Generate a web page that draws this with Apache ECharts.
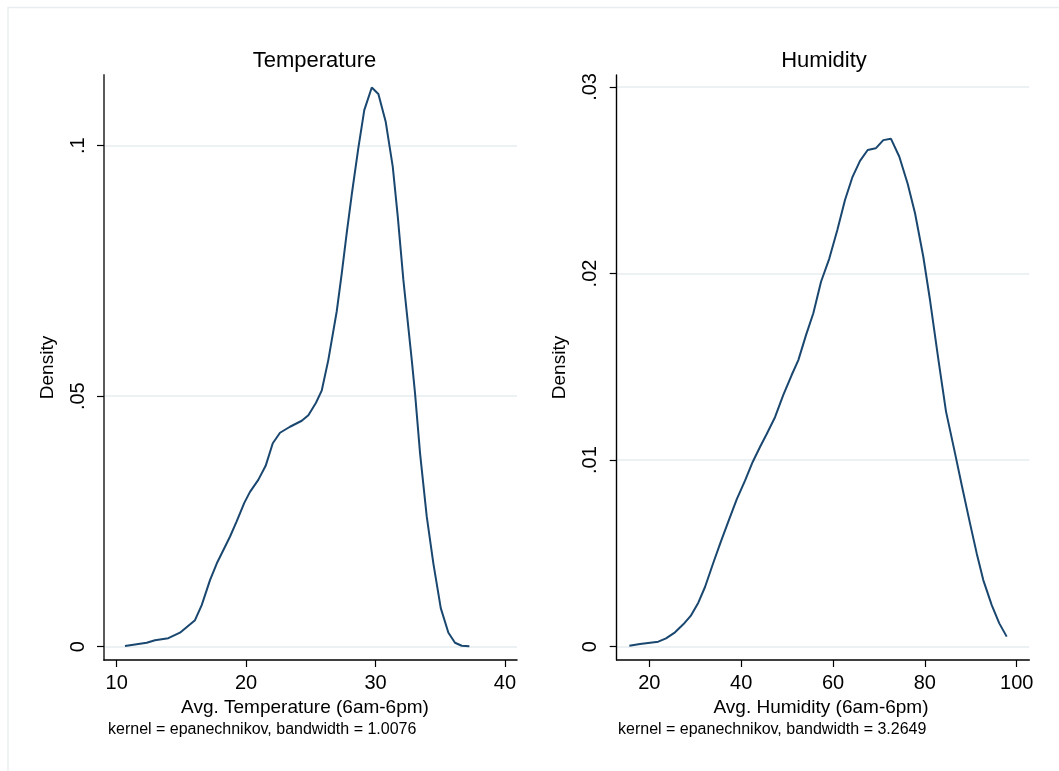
<!DOCTYPE html>
<html><head><meta charset="utf-8">
<script src="https://cdn.jsdelivr.net/npm/echarts@6/dist/echarts.min.js"></script>
<style>html,body{margin:0;padding:0;background:#fff}#c{width:1059px;height:771px}</style>
</head><body><div id="c"></div>
<script>
// ---- Data ----
const tempX = [10.64, 12.32, 12.96, 13.99, 14.89, 16.05, 16.57, 17.21, 17.73, 18.76, 19.27, 19.86, 20.30, 20.94, 21.51, 22.06, 22.62, 23.39, 24.30, 24.81, 25.40, 25.84, 26.35, 27.00, 27.39, 27.77, 28.16, 28.67, 29.13, 29.71, 30.22, 30.79, 31.33, 31.72, 32.15, 32.80, 33.05, 33.44, 33.96, 34.47, 35.04, 35.63, 36.14, 36.66, 37.25];
const tempDensity = [0.00014, 0.0008, 0.0013, 0.0017, 0.0028, 0.0053, 0.0083, 0.0133, 0.0166, 0.0220, 0.0250, 0.0287, 0.0309, 0.0333, 0.0361, 0.0406, 0.0427, 0.0439, 0.0451, 0.0462, 0.0487, 0.0511, 0.0572, 0.0669, 0.0745, 0.0825, 0.0902, 0.0995, 0.1071, 0.1116, 0.1103, 0.1047, 0.0958, 0.0858, 0.0732, 0.0572, 0.0506, 0.0386, 0.0259, 0.0166, 0.0077, 0.0028, 0.0008, 0.0002, 0.0001];
const humX = [15.65, 17.97, 21.96, 23.64, 25.60, 27.40, 29.01, 30.67, 32.13, 33.94, 35.54, 37.20, 39.03, 40.84, 42.51, 44.10, 45.56, 47.37, 49.18, 51.00, 52.45, 54.12, 55.71, 57.39, 59.19, 60.94, 62.61, 64.20, 65.88, 67.55, 69.30, 70.95, 72.63, 74.44, 76.27, 77.86, 79.66, 81.12, 82.93, 84.61, 86.57, 88.02, 89.83, 91.29, 92.72, 94.56, 96.21, 97.82];
const humDensity = [0.00005, 0.00014, 0.00027, 0.00045, 0.00077, 0.0012, 0.00165, 0.00236, 0.0032, 0.0045, 0.0056, 0.0067, 0.0079, 0.0089, 0.0099, 0.0107, 0.0114, 0.0123, 0.0135, 0.01456, 0.01536, 0.0167, 0.01787, 0.01956, 0.0208, 0.02233, 0.02394, 0.02515, 0.02604, 0.02662, 0.02671, 0.02715, 0.02722, 0.02626, 0.0248, 0.02323, 0.0209, 0.01858, 0.01541, 0.0126, 0.01036, 0.00867, 0.00661, 0.0050, 0.00357, 0.00223, 0.00125, 0.00054];

const tempXTicks = [10, 20, 30, 40];
const tempYTicks = [0, 0.05, 0.1];
const humXTicks = [20, 40, 60, 80, 100];
const humYTicks = [0, 0.01, 0.02, 0.03];

const panelTitles = ['Temperature', 'Humidity'];
const xAxisTitles = ['Avg. Temperature (6am-6pm)', 'Avg. Humidity (6am-6pm)'];
const yAxisTitle = 'Density';
const notes = ['kernel = epanechnikov, bandwidth = 1.0076', 'kernel = epanechnikov, bandwidth = 3.2649'];

// ---- Chart ----
const FONT = '"Liberation Sans", Arial, Helvetica, sans-serif';
const LINE = '#1a476f';
const GRID = '#e6eef0';

const zip = (xs, ys) => xs.map((x, i) => [x, ys[i]]);
const yFmt = v => (v === 0 ? '0' : String(+v.toFixed(4)).replace(/^0\./, '.'));

function makeX(idx, min, max, ticks, name, axisColor, nameShift) {
  return {
    type: 'value', gridIndex: idx, min: min, max: max,
    name: name, nameLocation: 'middle', nameGap: 30,
    nameTextStyle: { fontFamily: FONT, fontSize: 19, color: '#000', padding: [0, nameShift, 0, 0] },
    axisLine: { show: true, onZero: false, lineStyle: { color: axisColor, width: 1.5 } },
    axisTick: { show: true, length: 7, customValues: ticks, lineStyle: { color: '#000', width: 1.2 } },
    axisLabel: { customValues: ticks, margin: 13, fontFamily: FONT, fontSize: 20, color: '#000' },
    splitLine: { show: false }
  };
}
function makeY(idx, min, max, ticks, axisColor, axisWidth) {
  return {
    type: 'value', gridIndex: idx, min: min, max: max,
    name: yAxisTitle, nameLocation: 'middle', nameGap: 47, nameRotate: 90,
    nameTextStyle: { fontFamily: FONT, fontSize: 19, color: '#000' },
    axisLine: { show: true, onZero: false, lineStyle: { color: axisColor, width: axisWidth } },
    axisTick: { show: true, length: 7, customValues: ticks, lineStyle: { color: '#000', width: 1.2 } },
    axisLabel: { customValues: ticks, rotate: 90, margin: 16, align: 'center', verticalAlign: 'bottom',
      fontFamily: FONT, fontSize: 20, color: '#000', formatter: yFmt },
    splitLine: { show: true, lineStyle: { color: GRID, width: 1.5 } }
  };
}

const chart = echarts.init(document.getElementById('c'), null, { renderer: 'canvas' });
chart.setOption({
  backgroundColor: '#fff',
  animation: false,
  grid: [
    { left: 104, top: 75, width: 413, height: 585 },
    { left: 616.7, top: 75, width: 412.6, height: 585 }
  ],
  xAxis: [
    makeX(0, 9.02, 40.93, tempXTicks, xAxisTitles[0], '#000', 11),
    makeX(1, 12.9, 102.74, humXTicks, xAxisTitles[1], '#000', 4)
  ],
  yAxis: [
    makeY(0, -0.00265, 0.1141, tempYTicks, '#5a5a5a', 2),
    makeY(1, -0.000713, 0.03064, humYTicks, '#000', 1.4)
  ],
  series: [
    { type: 'line', xAxisIndex: 0, yAxisIndex: 0, data: zip(tempX, tempDensity), showSymbol: false,
      lineStyle: { color: LINE, width: 2 }, silent: true },
    { type: 'line', xAxisIndex: 1, yAxisIndex: 1, data: zip(humX, humDensity), showSymbol: false,
      lineStyle: { color: LINE, width: 2 }, silent: true }
  ],
  graphic: [
    { type: 'rect', shape: { x: 8, y: 7.5, width: 1200, height: 900 }, silent: true, z: -10,
      style: { fill: 'none', stroke: '#e9eff0', lineWidth: 1.5 } },
    { type: 'text', x: 314.5, y: 60.5, silent: true,
      style: { text: panelTitles[0], font: '22px ' + FONT, fill: '#000', align: 'center', verticalAlign: 'middle', textAlign: 'center', textVerticalAlign: 'middle' } },
    { type: 'text', x: 824, y: 60.5, silent: true,
      style: { text: panelTitles[1], font: '22px ' + FONT, fill: '#000', align: 'center', verticalAlign: 'middle', textAlign: 'center', textVerticalAlign: 'middle' } },
    { type: 'text', x: 108, y: 730, silent: true,
      style: { text: notes[0], font: '16px ' + FONT, fill: '#000', align: 'left', verticalAlign: 'middle', textAlign: 'left', textVerticalAlign: 'middle' } },
    { type: 'text', x: 618, y: 730, silent: true,
      style: { text: notes[1], font: '16px ' + FONT, fill: '#000', align: 'left', verticalAlign: 'middle', textAlign: 'left', textVerticalAlign: 'middle' } }
  ]
});
</script></body></html>
